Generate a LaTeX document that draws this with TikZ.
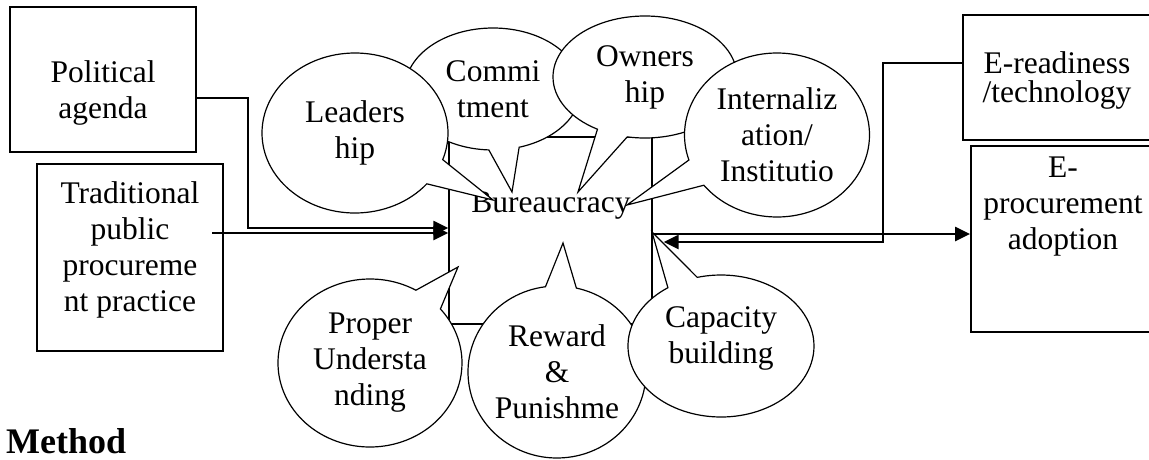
\documentclass[tikz,border=0pt]{standalone}
\usepackage{fontspec}
\setmainfont{Liberation Serif}
\usetikzlibrary{positioning,shapes.callouts,arrows.meta}

\tikzset{
	box/.style={draw,line width=1.8pt,inner sep=0pt},
	txt/.style={align=center,inner sep=0pt,font=\fontsize{31.5}{36}\selectfont},
	bubble/.style={ellipse callout,draw,fill=white,line width=1.2pt,inner sep=0pt,
		align=center,callout pointer arc=20,font=\fontsize{31.5}{36}\selectfont},
	conn/.style={line width=2.3pt,-{Triangle[length=15pt,width=14pt]}}
}

\begin{document}
\begin{tikzpicture}[x=1pt,y=-1pt]
			
			\clip (0,0) rectangle (1149,459);
			
			\node[box,minimum width=186pt,minimum height=145pt] (polbox) at (103,79.5) {};
			\node[txt] (pol) at (103,93) {Political\\agenda};
			\node[box,minimum width=186pt,minimum height=187pt] (tradbox) at (130,257.5) {};
			\node[txt] (trad) at (130,250) {Traditional\\public\\procureme\\nt practice};
			\node[box,minimum width=197pt,minimum height=125pt] (eredbox) at (1061.5,77.5) {};
			\node[txt,font=\fontsize{31.5}{29}\selectfont] (ered) at (1057,80) {E-readiness\\/technology};
			\node[box,minimum width=189pt,minimum height=186pt] (eprocbox) at (1065.5,239) {};
			\node[txt] (eproc) at (1063,207) {E-\\procurement\\adoption};
			\node[box,line width=1.3pt,minimum width=203pt,minimum height=187pt] (burbox) at (550.5,230.5) {};
			\node[txt] (bur) at (551,206) {Bureaucracy};
			
			\coordinate (tradout) at (212,233);
			
			\draw[conn] (polbox.east |- 0,98) -| (248,228) -- (burbox.west |- 0,228);
			\draw[conn] (tradout) -- (burbox.west |- tradout);
			\draw[conn,shorten >=11pt] (eredbox.west |- 0,63) -| (883,242) -- (burbox.east |- 0,242);
			\draw[conn] (burbox.east |- 0,234) -- (eprocbox.west |- 0,234);
			
			\node[bubble,minimum width=176pt,minimum height=122pt,callout absolute pointer={(512,192)}] (comm) at (493,89) {Commi\\tment};
			\node[bubble,minimum width=186pt,minimum height=160pt,callout absolute pointer={(493,200)}] (lead) at (355,133) {Leaders\\hip};
			\node[bubble,minimum width=184pt,minimum height=122pt,callout absolute pointer={(578,192)}] (own) at (645,77) {Owners\\hip};
			\node[bubble,minimum width=185pt,minimum height=164pt,callout absolute pointer={(627,205)}] (intl) at (777,135) {Internaliz\\ation/\\Institutio};
			\node[bubble,minimum width=184pt,minimum height=168pt,callout absolute pointer={(458,267)}] (prop) at (370,363) {Proper\\Understa\\nding};
			\node[bubble,minimum width=178pt,minimum height=172pt,callout absolute pointer={(563,243)}] (rew) at (557,372) {Reward\\\&\\Punishme};
			\node[bubble,minimum width=186pt,minimum height=142pt,text depth=22pt,callout absolute pointer={(652,232)}] (cap) at (721,346) {Capacity\\building};
			
			\node[anchor=base west,inner sep=0pt,font=\fontsize{36}{40}\selectfont\bfseries] (method) at (6,453) {Method};
			
		\end{tikzpicture}
\end{document}
